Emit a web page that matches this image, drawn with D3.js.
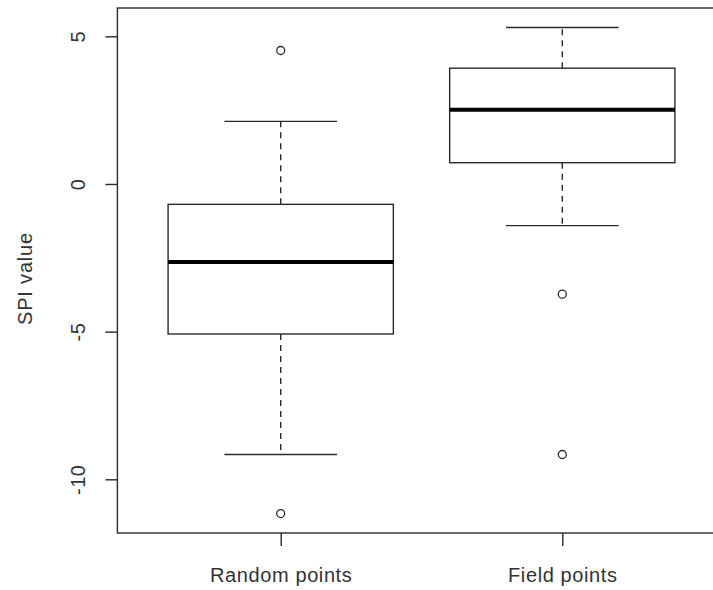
<!DOCTYPE html>
<html><head><meta charset="utf-8">
<script src="https://cdn.jsdelivr.net/npm/d3@7"></script>
<style>
html,body{margin:0;padding:0;background:#fff;}
svg text{font-family:"Liberation Sans",Arial,sans-serif;fill:#333;}
</style></head>
<body><svg id="chart" width="713" height="590"></svg>
<script>
const categories = ["Random points", "Field points"];
const whiskerLow  = [-9.16, -1.41];
const q1          = [-5.08, 0.72];
const median      = [-2.64, 2.51];
const q3          = [-0.69, 3.92];
const whiskerHigh = [2.12, 5.30];
const outliers    = [[4.52, -11.16], [-3.73, -9.16]];
const yTicks      = [5, 0, -5, -10];
const yLabel      = "SPI value";

const svg = d3.select("#chart");
const plotL = 117.4, plotR = 725.6, plotT = 8, plotB = 533;
const ink = "#2a2a2a";

const allVals = whiskerLow.concat(whiskerHigh, outliers.flat());
const lo = d3.min(allVals), hi = d3.max(allVals);
const pad = (hi - lo) * 0.04;
const y = d3.scaleLinear().domain([lo - pad, hi + pad]).range([plotB, plotT]);
const n = categories.length;
const xpad = n * 0.04;
const x = d3.scaleLinear().domain([0.5 - xpad, n + 0.5 + xpad]).range([plotL, plotR]);

const boxW = 0.8, capW = 0.4;

const g = svg.append("g");
categories.forEach((c, i) => {
  const cx = x(i + 1);
  const bx0 = x(i + 1 - boxW / 2), bx1 = x(i + 1 + boxW / 2);
  const cx0 = x(i + 1 - capW / 2), cx1 = x(i + 1 + capW / 2);
  g.append("line").attr("x1", cx).attr("x2", cx).attr("y1", y(q3[i])).attr("y2", y(whiskerHigh[i]))
    .attr("stroke", ink).attr("stroke-width", 1.4).attr("stroke-dasharray", "6,5");
  g.append("line").attr("x1", cx).attr("x2", cx).attr("y1", y(q1[i])).attr("y2", y(whiskerLow[i]))
    .attr("stroke", ink).attr("stroke-width", 1.4).attr("stroke-dasharray", "6,5");
  [whiskerHigh[i], whiskerLow[i]].forEach(v => {
    g.append("line").attr("x1", cx0).attr("x2", cx1).attr("y1", y(v)).attr("y2", y(v))
      .attr("stroke", ink).attr("stroke-width", 1.4);
  });
  g.append("rect").attr("x", bx0).attr("y", y(q3[i])).attr("width", bx1 - bx0).attr("height", y(q1[i]) - y(q3[i]))
    .attr("fill", "none").attr("stroke", ink).attr("stroke-width", 1.4);
  g.append("line").attr("x1", bx0).attr("x2", bx1).attr("y1", y(median[i])).attr("y2", y(median[i]))
    .attr("stroke", "#000").attr("stroke-width", 4);
  outliers[i].forEach(v => {
    g.append("circle").attr("cx", cx).attr("cy", y(v)).attr("r", 4)
      .attr("fill", "none").attr("stroke", ink).attr("stroke-width", 1.3);
  });
});

svg.append("rect").attr("x", plotL).attr("y", plotT).attr("width", plotR - plotL).attr("height", plotB - plotT)
  .attr("fill", "none").attr("stroke", ink).attr("stroke-width", 1.4);

const yAxis = d3.axisLeft(y).tickValues(yTicks).tickSize(12).tickPadding(0).tickFormat(d => String(d));
const ya = svg.append("g").attr("transform", `translate(${plotL},0)`).call(yAxis);
ya.select(".domain").remove();
ya.selectAll(".tick line").attr("stroke", ink).attr("stroke-width", 1.4);
ya.selectAll(".tick text").remove();
ya.selectAll(".tick").append("text")
  .attr("transform", "translate(-39,0) rotate(-90)")
  .attr("text-anchor", "middle").attr("dominant-baseline", "central")
  .style("font-size", "20px").style("letter-spacing", "0.5px")
  .text(d => String(d));

const xAxis = d3.axisBottom(x).tickValues(d3.range(1, n + 1)).tickSize(13).tickPadding(0).tickFormat(d => categories[d - 1]);
const xa = svg.append("g").attr("transform", `translate(0,${plotB})`).call(xAxis);
xa.select(".domain").remove();
xa.selectAll(".tick line").attr("stroke", ink).attr("stroke-width", 1.4);
xa.selectAll(".tick text").attr("y", 49).attr("dy", 0).attr("fill", "#333")
  .style("font-size", "20px").style("letter-spacing", "0.6px")
  .style("font-family", "'Liberation Sans', Arial, sans-serif");

svg.append("text").attr("transform", `translate(25,${(plotT + plotB) / 2 + 8}) rotate(-90)`)
  .attr("text-anchor", "middle").attr("dominant-baseline", "central")
  .style("font-size", "20px").style("letter-spacing", "0.8px")
  .text(yLabel);
</script></body></html>
